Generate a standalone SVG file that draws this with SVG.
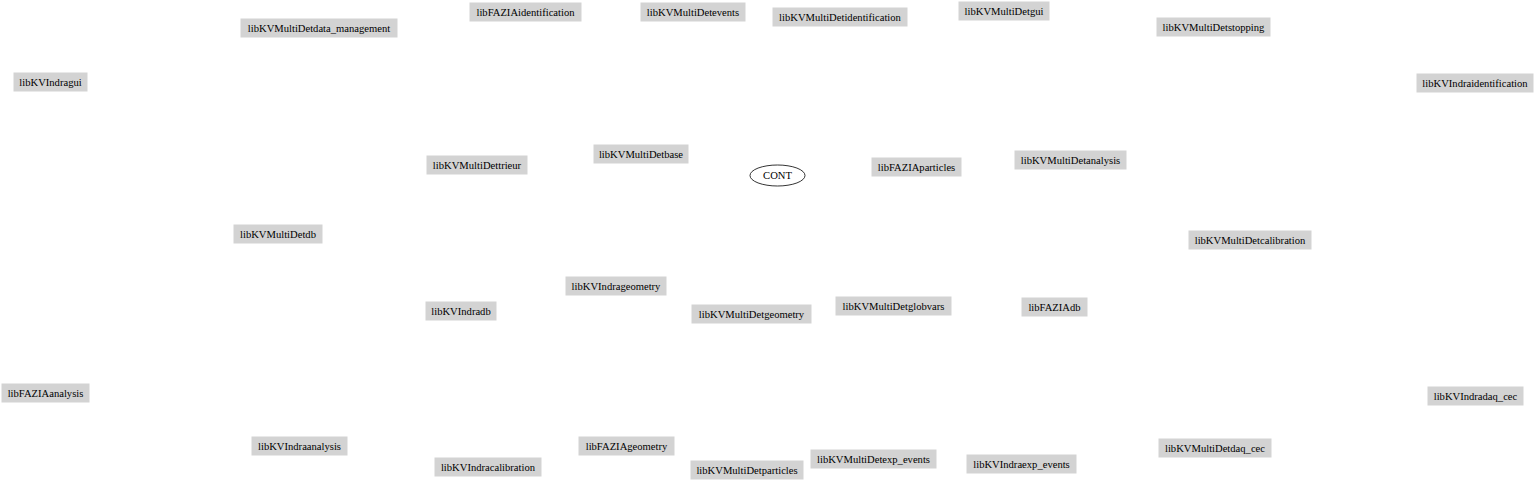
<svg xmlns="http://www.w3.org/2000/svg" width="1536" height="483" viewBox="0 0 1536 483" font-family="'Liberation Serif', 'Times New Roman', serif">
<style>
.n rect{fill:#d3d3d3;stroke:#d3d3d3;stroke-width:1}
text{font-family:'Liberation Serif','Times New Roman',serif;font-size:10.6px;fill:#000;text-anchor:middle}
.e ellipse{fill:none;stroke:#000;stroke-width:0.8}
</style>
<rect width="1536" height="483" fill="#fff"/>
<g id="connectors"/>
<g id="libKVMultiDetdata_management" class="n"><rect x="241" y="19" width="156" height="18"/><text x="319" y="31.5">libKVMultiDetdata_management</text></g>
<g id="libFAZIAidentification" class="n"><rect x="470" y="3" width="111" height="18"/><text x="525.5" y="15.5">libFAZIAidentification</text></g>
<g id="libKVMultiDetevents" class="n"><rect x="641" y="3" width="104" height="18"/><text x="693" y="15.5">libKVMultiDetevents</text></g>
<g id="libKVMultiDetidentification" class="n"><rect x="773" y="8" width="134" height="18"/><text x="840" y="20.5">libKVMultiDetidentification</text></g>
<g id="libKVMultiDetgui" class="n"><rect x="959" y="2" width="90" height="18"/><text x="1004" y="14.5">libKVMultiDetgui</text></g>
<g id="libKVMultiDetstopping" class="n"><rect x="1157" y="18" width="113" height="18"/><text x="1213.5" y="30.5">libKVMultiDetstopping</text></g>
<g id="libKVIndragui" class="n"><rect x="14" y="73" width="73" height="18"/><text x="50.5" y="85.5">libKVIndragui</text></g>
<g id="libKVIndraidentification" class="n"><rect x="1417" y="74" width="116" height="18"/><text x="1475" y="86.5">libKVIndraidentification</text></g>
<g id="libKVMultiDettrieur" class="n"><rect x="427" y="156" width="100" height="18"/><text x="477" y="168.5">libKVMultiDettrieur</text></g>
<g id="libKVMultiDetbase" class="n"><rect x="594" y="145" width="94" height="18"/><text x="641" y="157.5">libKVMultiDetbase</text></g>
<g id="CONT" class="e"><ellipse cx="777.5" cy="175.5" rx="27.5" ry="10.5"/><text x="777.5" y="179">CONT</text></g>
<g id="libFAZIAparticles" class="n"><rect x="872" y="158" width="89" height="18"/><text x="916.5" y="170.5">libFAZIAparticles</text></g>
<g id="libKVMultiDetanalysis" class="n"><rect x="1015" y="151" width="111" height="18"/><text x="1070.5" y="163.5">libKVMultiDetanalysis</text></g>
<g id="libKVMultiDetdb" class="n"><rect x="234" y="225" width="88" height="18"/><text x="278" y="237.5">libKVMultiDetdb</text></g>
<g id="libKVMultiDetcalibration" class="n"><rect x="1189" y="231" width="122" height="18"/><text x="1250" y="243.5">libKVMultiDetcalibration</text></g>
<g id="libKVIndrageometry" class="n"><rect x="566" y="277" width="100" height="18"/><text x="616" y="289.5">libKVIndrageometry</text></g>
<g id="libKVIndradb" class="n"><rect x="426" y="302" width="70" height="18"/><text x="461" y="314.5">libKVIndradb</text></g>
<g id="libKVMultiDetgeometry" class="n"><rect x="692" y="305" width="119" height="18"/><text x="751.5" y="317.5">libKVMultiDetgeometry</text></g>
<g id="libKVMultiDetglobvars" class="n"><rect x="836" y="297" width="115" height="18"/><text x="893.5" y="309.5">libKVMultiDetglobvars</text></g>
<g id="libFAZIAdb" class="n"><rect x="1022" y="298" width="65" height="18"/><text x="1054.5" y="310.5">libFAZIAdb</text></g>
<g id="libFAZIAanalysis" class="n"><rect x="2" y="384" width="87" height="18"/><text x="45.5" y="396.5">libFAZIAanalysis</text></g>
<g id="libKVIndradaq_cec" class="n"><rect x="1428" y="387" width="95" height="18"/><text x="1475.5" y="399.5">libKVIndradaq_cec</text></g>
<g id="libKVIndraanalysis" class="n"><rect x="252" y="437" width="95" height="18"/><text x="299.5" y="449.5">libKVIndraanalysis</text></g>
<g id="libFAZIAgeometry" class="n"><rect x="579" y="437" width="95" height="18"/><text x="626.5" y="449.5">libFAZIAgeometry</text></g>
<g id="libKVMultiDetdaq_cec" class="n"><rect x="1159" y="439" width="112" height="18"/><text x="1215" y="451.5">libKVMultiDetdaq_cec</text></g>
<g id="libKVMultiDetexp_events" class="n"><rect x="811" y="450" width="125" height="18"/><text x="873.5" y="462.5">libKVMultiDetexp_events</text></g>
<g id="libKVIndraexp_events" class="n"><rect x="967" y="455" width="109" height="18"/><text x="1021.5" y="467.5">libKVIndraexp_events</text></g>
<g id="libKVIndracalibration" class="n"><rect x="435" y="458" width="106" height="18"/><text x="488" y="470.5">libKVIndracalibration</text></g>
<g id="libKVMultiDetparticles" class="n"><rect x="691" y="461" width="112" height="18"/><text x="747" y="473.5">libKVMultiDetparticles</text></g>
</svg>
